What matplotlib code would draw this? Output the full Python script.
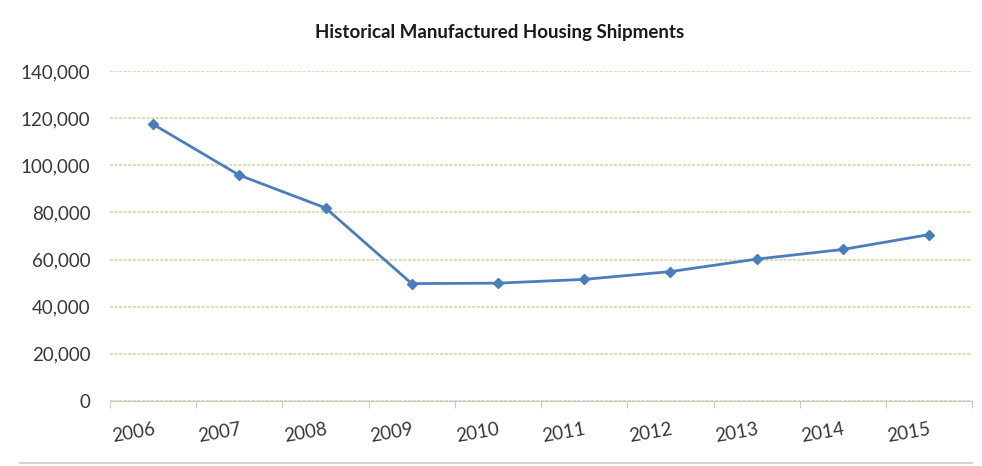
import matplotlib
matplotlib.use("Agg")

import matplotlib.pyplot as plt
from matplotlib.ticker import FuncFormatter, FixedLocator
import numpy as np


# data
YEARS = ["2006", "2007", "2008", "2009", "2010", "2011", "2012", "2013", "2014", "2015"]
SHIPMENTS = [117400, 95800, 81900, 49800, 50000, 51600, 54900, 60200, 64300, 70600]
Y_TICKS = [0, 20000, 40000, 60000, 80000, 100000, 120000, 140000]

LINE_BLUE = "#4a7ebb"
GRID = "#d2d2a0"
TEXT = "#383838"
AXIS = "#c8c8c8"

plt.rcParams["font.family"] = ["Lato", "DejaVu Sans"]

fig = plt.figure(figsize=(9.82, 4.66), dpi=100, facecolor="white")
ax = fig.add_axes([0.112, 0.1395, 0.878, 0.7081])

x = np.arange(len(YEARS))
ax.plot(
    x, SHIPMENTS,
    color=LINE_BLUE, linewidth=2.0,
    marker="D", markersize=5.5,
    markerfacecolor=LINE_BLUE, markeredgecolor=LINE_BLUE,
    zorder=3,
)

ax.set_xlim(-0.5, len(YEARS) - 0.5)
ax.set_ylim(0, 140000)

ax.set_yticks(Y_TICKS)
ax.yaxis.set_major_formatter(FuncFormatter(lambda v, _: f"{int(v):,}"))
ax.yaxis.grid(True, color=GRID, linewidth=1.1, linestyle=(0, (2, 1)))
ax.set_axisbelow(True)

# category labels at centers, tick marks at category boundaries
ax.set_xticks(x)
ax.set_xticklabels(YEARS, rotation=10, ha="right", va="top",
                   rotation_mode="anchor")
ax.xaxis.set_minor_locator(FixedLocator(np.arange(-0.5, len(YEARS), 1.0)))
ax.tick_params(axis="x", which="major", length=0, pad=14,
               labelsize=13.5, labelcolor=TEXT)
ax.tick_params(axis="x", which="minor", length=5, color=AXIS, width=0.8)
ax.tick_params(axis="y", length=0, pad=14, labelsize=13.5, labelcolor=TEXT)

for name in ("top", "right", "left"):
    ax.spines[name].set_visible(False)
ax.spines["bottom"].set_color(AXIS)
ax.spines["bottom"].set_linewidth(0.8)

fig.text(0.509, 0.931, "Historical Manufactured Housing Shipments",
         ha="center", va="center", fontsize=13.5, fontweight="bold",
         color="#1a1a1a")

# faint frame line at the bottom edge
fig.add_artist(plt.Line2D([0.02, 0.99], [0.006, 0.006],
                          transform=fig.transFigure, color="#cccccc",
                          linewidth=1.2))

fig.savefig("out.png", dpi=100, facecolor="white")
